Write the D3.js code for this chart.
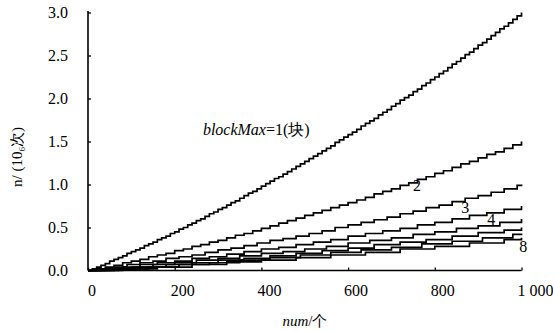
<!DOCTYPE html>
<html><head><meta charset="utf-8">
<script src="https://cdn.jsdelivr.net/npm/d3@7/dist/d3.min.js"></script>
<style>
html,body{margin:0;padding:0;background:#fff;}
text{font-family:"Liberation Serif","Times New Roman",serif;fill:#000;}
</style></head>
<body><svg id="c" width="553" height="331"></svg>
<script>
// ---- data (n in 10^6) ----
const xTicks = [0, 200, 400, 600, 800, 1000];
const xTickLabels = ["0", "200", "400", "600", "800", "1 000"];
const yTicks = [0, 0.5, 1.0, 1.5, 2.0, 2.5, 3.0];
const yTickLabels = ["0.0", "0.5", "1.0", "1.5", "2.0", "2.5", "3.0"];

const stepNum = [10, 20, 30, 40, 50, 60, 70, 80]; // spacing of stairs per blockMax

const n1 = [0,0.02,0.04,0.06,0.08,0.11,0.13,0.15,0.17,0.20,0.22,0.24,0.26,0.29,0.31,0.33,0.36,0.38,0.40,0.43,
0.45,0.48,0.50,0.53,0.55,0.58,0.60,0.63,0.66,0.68,0.71,0.73,0.76,0.79,0.81,0.84,0.87,0.90,0.92,0.95,
0.98,1.01,1.04,1.07,1.09,1.12,1.15,1.18,1.21,1.24,1.27,1.30,1.33,1.36,1.39,1.42,1.45,1.49,1.52,1.55,
1.58,1.61,1.64,1.68,1.71,1.74,1.77,1.81,1.84,1.87,1.91,1.94,1.98,2.01,2.04,2.08,2.11,2.15,2.18,2.22,
2.25,2.29,2.32,2.36,2.40,2.43,2.47,2.51,2.54,2.58,2.62,2.65,2.69,2.73,2.77,2.81,2.84,2.88,2.92,2.96,3.00];
const n2 = [0,0.02,0.04,0.06,0.09,0.11,0.13,0.16,0.18,0.20,0.23,0.25,0.28,0.30,0.33,0.35,0.38,0.41,0.43,0.46,
0.49,0.52,0.55,0.58,0.61,0.64,0.67,0.70,0.73,0.76,0.79,0.82,0.85,0.89,0.92,0.95,0.99,1.02,1.06,1.09,
1.13,1.16,1.20,1.24,1.27,1.31,1.35,1.38,1.42,1.46,1.50];
const n3 = [0,0.02,0.04,0.07,0.09,0.11,0.14,0.16,0.18,0.21,0.24,0.26,0.29,0.32,0.35,0.37,0.40,0.43,0.46,0.50,
0.53,0.56,0.59,0.62,0.66,0.69,0.73,0.76,0.80,0.84,0.87,0.91,0.95,0.99,1.00];
const n4 = [0,0.02,0.04,0.07,0.09,0.11,0.14,0.16,0.19,0.22,0.25,0.27,0.30,0.33,0.36,0.40,0.43,0.46,0.49,0.53,
0.56,0.60,0.64,0.67,0.71,0.75];
const n5 = [0,0.02,0.04,0.07,0.09,0.12,0.14,0.17,0.20,0.22,0.25,0.28,0.32,0.35,0.38,0.42,0.45,0.49,0.52,0.56,0.60];
const n6 = [0,0.02,0.04,0.07,0.09,0.12,0.14,0.17,0.20,0.23,0.26,0.30,0.33,0.36,0.40,0.44,0.47,0.50];
const n7 = [0,0.02,0.04,0.07,0.09,0.12,0.15,0.18,0.21,0.24,0.27,0.31,0.34,0.38,0.42,0.43];
const n8 = [0,0.02,0.04,0.07,0.10,0.12,0.15,0.18,0.21,0.25,0.28,0.32,0.36,0.38];
const seriesValues = [n1, n2, n3, n4, n5, n6, n7, n8];

const curveLabels = [
  {t: "2", num: 759, n: 0.92},
  {t: "3", num: 870, n: 0.67},
  {t: "4", num: 930, n: 0.53},
  {t: "8", num: 1004, n: 0.21}
];

// ---- drawing ----
const svg = d3.select("#c");
const x = d3.scaleLinear().domain([0, 1000]).range([88, 521.5]);
const y = d3.scaleLinear().domain([0, 3]).range([270.5, 12.5]);

function numsFor(k, len) {
  const s = stepNum[k];
  const arr = [];
  for (let j = 0; j < len; j++) arr.push(Math.min(j * s, 1000));
  arr[len - 1] = 1000;
  return arr;
}

const line = d3.line().x(d => x(d[0])).y(d => y(d[1])).curve(d3.curveStepAfter);

seriesValues.forEach((vals, k) => {
  const nums = numsFor(k, vals.length);
  const pts = vals.map((v, i) => [nums[i], v]);
  svg.append("path").datum(pts)
    .attr("d", line)
    .attr("fill", "none")
    .attr("stroke", "#000")
    .attr("stroke-width", 1.7)
    .attr("stroke-linejoin", "miter");
});

// axes
const yAxis = d3.axisRight(y).tickValues(yTicks).tickSize(3).tickFormat("");
const gy = svg.append("g").attr("transform", `translate(${x(0)},0)`).call(yAxis);
gy.select(".domain").attr("stroke", "#000").attr("stroke-width", 1.6).attr("d", `M0,${y(0)}V${y(3)-1.5}`);
gy.selectAll(".tick line").attr("stroke", "#000").attr("stroke-width", 1.3);

const xAxis = d3.axisTop(x).tickValues(xTicks).tickSize(3).tickFormat("");
const gx = svg.append("g").attr("transform", `translate(0,${y(0)})`).call(xAxis);
gx.select(".domain").attr("stroke", "#000").attr("stroke-width", 1.6).attr("d", `M${x(0)},0H${x(1000)}`);
gx.selectAll(".tick line").attr("stroke", "#000").attr("stroke-width", 1.3);

// tick labels
svg.append("g").selectAll("text").data(yTicks).join("text")
  .attr("x", 68).attr("y", d => y(d)).attr("dy", "0.35em")
  .attr("text-anchor", "end").attr("font-size", 16)
  .text((d, i) => yTickLabels[i]);

svg.append("g").selectAll("text").data(xTicks).join("text")
  .attr("x", d => x(d) + (d === 0 ? 0 : -4)).attr("y", 296)
  .attr("text-anchor", "start").attr("font-size", 16)
  .text((d, i) => xTickLabels[i]);

// axis titles
const xt = svg.append("text").attr("x", 305).attr("y", 326).attr("text-anchor", "middle").attr("font-size", 15);
xt.append("tspan").attr("font-style", "italic").text("num");
xt.append("tspan").text("/个");

const yt = svg.append("text").attr("transform", "translate(22,157) rotate(-90)")
  .attr("text-anchor", "middle").attr("font-size", 15).attr("fill", "#333");
yt.append("tspan").text("n/ (10");
yt.append("tspan").attr("font-size", 9).attr("dy", 3).text("6");
yt.append("tspan").attr("dy", -3).text("次)");

// annotations
const bl = svg.append("text").attr("x", x(265)).attr("y", y(1.58)).attr("font-size", 16);
bl.append("tspan").attr("font-style", "italic").text("blockMax");
bl.append("tspan").text("=1(块)");

svg.append("g").selectAll("text").data(curveLabels).join("text")
  .attr("x", d => x(d.num)).attr("y", d => y(d.n))
  .attr("text-anchor", "middle").attr("font-size", 16)
  .text(d => d.t);
</script></body></html>
